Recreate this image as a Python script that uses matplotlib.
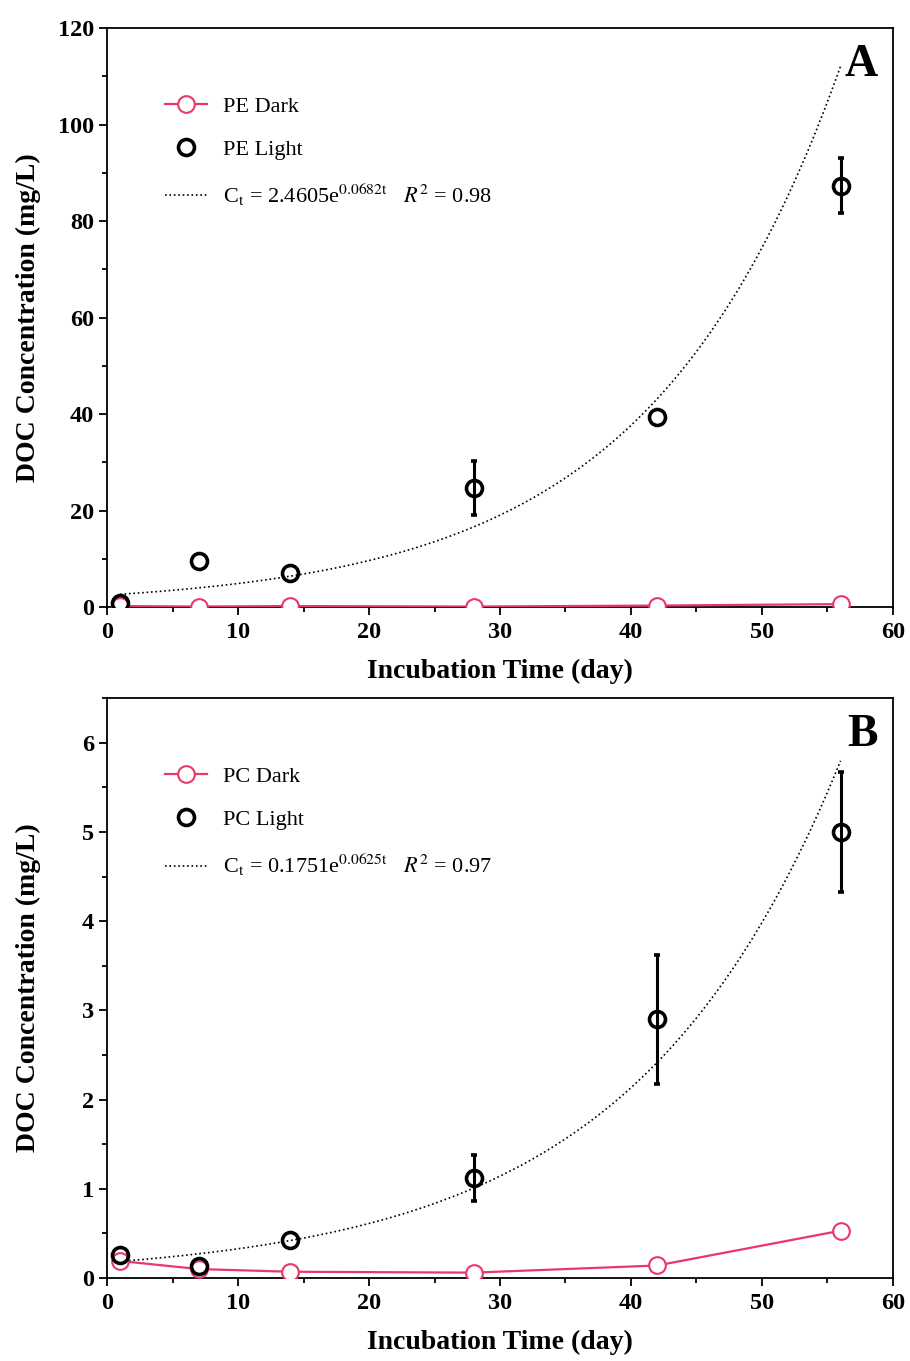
import numpy as np
import matplotlib
matplotlib.use("Agg")
import matplotlib.pyplot as plt
from matplotlib.ticker import MultipleLocator

plt.rcParams['font.family'] = ['Liberation Serif', 'DejaVu Serif']
plt.rcParams['mathtext.fontset'] = 'stix'

days = [1, 7, 14, 28, 42, 56]

pe_dark = [0.2, 0.1, 0.2, 0.1, 0.3, 0.6]
pe_light = [0.8, 9.5, 7.0, 24.7, 39.4, 87.3]
pe_light_err = [np.nan, np.nan, np.nan, 5.6, np.nan, 5.7]
pe_fit_label = r'C$_\mathrm{t}$ = 2.4605e$^{\mathrm{0.0682t}}$   $R^2$ = 0.98'
pe_fit_a, pe_fit_k = 2.4605, 0.0682

pc_dark = [0.19, 0.10, 0.07, 0.06, 0.14, 0.53]
pc_light = [0.26, 0.13, 0.43, 1.12, 2.90, 5.00]
pc_light_err = [np.nan, np.nan, np.nan, 0.26, 0.72, 0.67]
pc_fit_label = r'C$_\mathrm{t}$ = 0.1751e$^{\mathrm{0.0625t}}$   $R^2$ = 0.97'
pc_fit_a, pc_fit_k = 0.1751, 0.0625

pink = '#e8386a'

fig = plt.figure(figsize=(9.1, 13.61), dpi=100)
axA = fig.add_axes([0.1176, 0.554, 0.8637, 0.4254])
axB = fig.add_axes([0.1176, 0.061, 0.8637, 0.426])

def panel(ax, dark, light, err, a, k, fit_label, names, ylim, ymaj, ymin, letter):
    t = np.linspace(1, 56, 200)
    ld, = ax.plot(days, dark, '-o', color=pink, lw=1.6, ms=12, mfc='white',
                  mec=pink, mew=1.5, zorder=3)
    ax.errorbar(days, light, yerr=np.array(err), fmt='o', ms=11.5, mfc='none',
                mec='black', mew=2.6, ecolor='black', elinewidth=2.2,
                capsize=2, capthick=2, zorder=4)
    lf, = ax.plot(t, a * np.exp(k * t), ':', color='black', lw=1.2, zorder=2)
    lh_light = plt.Line2D([], [], ls='none', marker='o', ms=11.5, mfc='none',
                          mec='black', mew=2.6)
    ax.legend([ld, lh_light, lf], [names[0], names[1], fit_label],
              loc='upper left', bbox_to_anchor=(0.074, 0.882), frameon=False,
              fontsize=16, handlelength=1.9, labelspacing=1.0,
              handletextpad=0.7, borderpad=0, borderaxespad=0)
    ax.set_xlim(0, 60)
    ax.set_ylim(*ylim)
    ax.xaxis.set_major_locator(MultipleLocator(10))
    ax.xaxis.set_minor_locator(MultipleLocator(5))
    ax.yaxis.set_major_locator(MultipleLocator(ymaj))
    ax.yaxis.set_minor_locator(MultipleLocator(ymin))
    ax.tick_params(which='both', direction='out', top=False, right=False,
                   width=1.3, labelsize=17.5)
    ax.tick_params(axis='x', which='major', pad=5)
    ax.tick_params(which='major', length=6)
    ax.tick_params(which='minor', length=3.5)
    for lbl in ax.get_xticklabels() + ax.get_yticklabels():
        lbl.set_fontweight('bold')
    for s in ax.spines.values():
        s.set_linewidth(1.3)
    ax.set_xlabel('Incubation Time (day)', fontsize=20, fontweight='bold')
    ax.set_ylabel('DOC Concentration (mg/L)', fontsize=20, fontweight='bold')
    ax.xaxis.set_label_coords(0.5, -0.112, transform=ax.transAxes)
    ax.yaxis.set_label_coords(-0.1, 0.5, transform=ax.transAxes)
    ax.xaxis.label.set_va('center')
    ax.yaxis.label.set_va('center')
    ax.text(0.981, 0.917, letter, transform=ax.transAxes, ha='right',
            va='baseline', fontsize=33, fontweight='bold')

panel(axA, pe_dark, pe_light, pe_light_err, pe_fit_a, pe_fit_k, pe_fit_label,
      ['PE Dark', 'PE Light'], (0, 120), 20, 10, 'A')
panel(axB, pc_dark, pc_light, pc_light_err, pc_fit_a, pc_fit_k, pc_fit_label,
      ['PC Dark', 'PC Light'], (0, 6.5), 1, 0.5, 'B')

fig.savefig('out.png', dpi=100)
